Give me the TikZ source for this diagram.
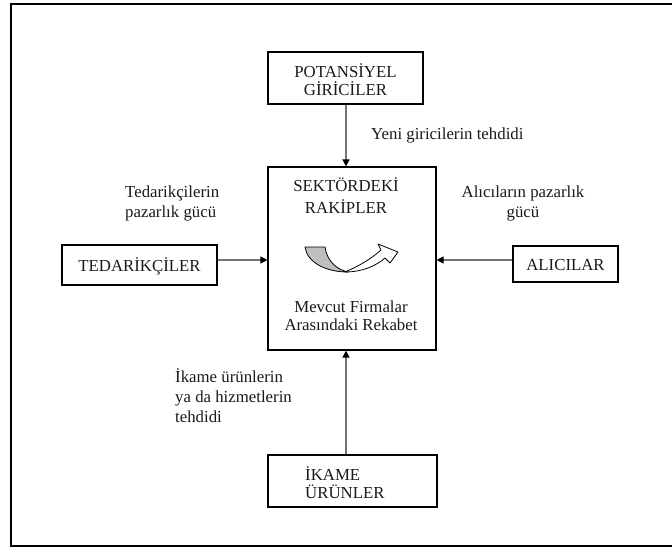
\documentclass[tikz,border=0pt]{standalone}
\usepackage{fontspec}
\setmainfont{Liberation Serif}
\usetikzlibrary{arrows.meta,positioning,calc}
\begin{document}
\begin{tikzpicture}[x=1pt,y=-1pt,
  txt/.style={inner sep=0pt,font=\fontsize{16.8}{19}\selectfont,text=black!90},
  box/.style={draw=black,line width=1.2pt,inner sep=0pt},
  conn/.style={draw=black!55,line width=1.4pt,-{Triangle[length=7pt,width=7pt,black]}}]
\useasboundingbox (0,0) rectangle (672,549);
\clip (0,0) rectangle (672,549);
\draw[line width=1.6pt] (11,4) rectangle (690,546);
% boxes
\node[box,minimum width=155pt,minimum height=52pt] (pot) at (345.5,78) {};
\node[txt,align=center] (pott) at (345.5,80) {POTANSİYEL\\[-1pt]GİRİCİLER};
\node[box,minimum width=168pt,minimum height=183pt] (ctr) at (352,258.5) {};
\node[txt,align=center,font=\fontsize{16.8}{22}\selectfont] (ctrt) at (346,196) {SEKTÖRDEKİ\\RAKİPLER};
\node[txt,align=center] (ctrb) at (351,316) {Mevcut Firmalar\\[-1pt]Arasındaki Rekabet};
\node[box,minimum width=155pt,minimum height=40pt] (ted) at (139.5,265) {};
\node[txt] (tedt) at (139.5,266) {TEDARİKÇİLER};
\node[box,minimum width=105pt,minimum height=36pt] (ali) at (565.5,264) {};
\node[txt] (alit) at (565.5,265) {ALICILAR};
\node[box,minimum width=169pt,minimum height=52pt] (ika) at (352.5,481) {};
\node[txt,align=left,anchor=west] (ikat) at (305,483) {İKAME\\[-1pt]ÜRÜNLER};
% labels
\node[txt,anchor=west] (lyeni) at (371,135) {Yeni giricilerin tehdidi};
\node[txt,align=left,anchor=north west] (lted) at (125,186) {Tedarikçilerin\\[1pt]pazarlık gücü};
\node[txt,align=center,anchor=north] (lali) at (523,186) {Alıcıların pazarlık\\[1pt]gücü};
\node[txt,align=left,anchor=north west] (lika) at (175,368) {İkame ürünlerin\\[1pt]ya da hizmetlerin\\[1pt]tehdidi};
% connectors
\coordinate (hy) at (0,260);
\coordinate (vx) at (346,0);
\draw[conn] (vx |- pot.south) -- (vx |- ctr.north);
\draw[conn] (vx |- ika.north) -- (vx |- ctr.south);
\draw[conn] (ted.east |- hy) -- (ctr.west |- hy);
\draw[conn] (ali.west |- hy) -- (ctr.east |- hy);
% curved arrow symbol
\draw[fill=black!25,line width=0.8pt,line join=round]
  (305,247) -- (325,247) .. controls (327,262) and (338,270) .. (348,272)
  .. controls (325,272) and (307,262) .. (305,247) -- cycle;
\draw[fill=white,line width=0.8pt,line join=round]
  (345,272) .. controls (362,272) and (376,266) .. (385,258)
  -- (390,263) -- (398,252) -- (378,244) -- (381,250)
  .. controls (371,259) and (359,266) .. (345,272) -- cycle;
\end{tikzpicture}
\end{document}
